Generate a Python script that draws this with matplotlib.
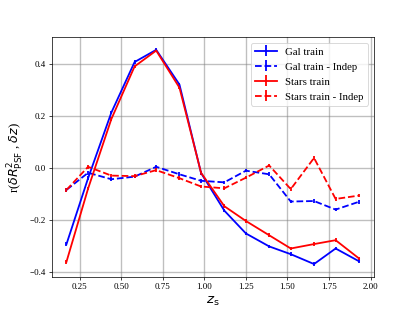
import numpy as np
from matplotlib import pyplot as plt

plt.rcParams['font.family'] = 'Liberation Serif'
plt.rcParams['mathtext.fontset'] = 'dejavusans'

z_s = [0.17, 0.30, 0.44, 0.58, 0.71, 0.85, 0.98, 1.12, 1.25, 1.39, 1.52, 1.66, 1.79, 1.93]

gal_train = [-0.294, -0.04, 0.213, 0.408, 0.455, 0.321, -0.02, -0.165, -0.253, -0.303, -0.333, -0.371, -0.311, -0.36]
gal_indep = [-0.085, -0.019, -0.044, -0.034, 0.004, -0.025, -0.05, -0.056, -0.011, -0.025, -0.13, -0.128, -0.161, -0.131]
stars_train = [-0.362, -0.08, 0.188, 0.391, 0.452, 0.309, -0.019, -0.148, -0.205, -0.26, -0.311, -0.294, -0.279, -0.349]
stars_indep = [-0.085, 0.004, -0.03, -0.032, -0.009, -0.04, -0.072, -0.079, -0.038, 0.009, -0.082, 0.038, -0.12, -0.107]

err = [0.007] * len(z_s)

fig = plt.figure(figsize=(6.4, 4.8), dpi=415 / 6.4)
plt.errorbar(z_s, gal_train, yerr=err, color='blue', linewidth=2, label='Gal train')
plt.errorbar(z_s, gal_indep, yerr=err, color='blue', linewidth=2, linestyle='dashed', label='Gal train - Indep')
plt.errorbar(z_s, stars_train, yerr=err, color='red', linewidth=2, label='Stars train')
plt.errorbar(z_s, stars_indep, yerr=err, color='red', linewidth=2, linestyle='dashed', label='Stars train - Indep')
plt.grid(linewidth=1.5, color='gray', alpha=0.5)
plt.xlabel(r'$z_{\rm s}$', fontsize=15)
plt.ylabel(r'r($\delta R^2_{\rm PSF}$ , $\delta z$)', fontsize=14)
plt.legend(loc='upper right', fontsize=12)
plt.savefig('out.png', dpi=415 / 6.4)
plt.close()
